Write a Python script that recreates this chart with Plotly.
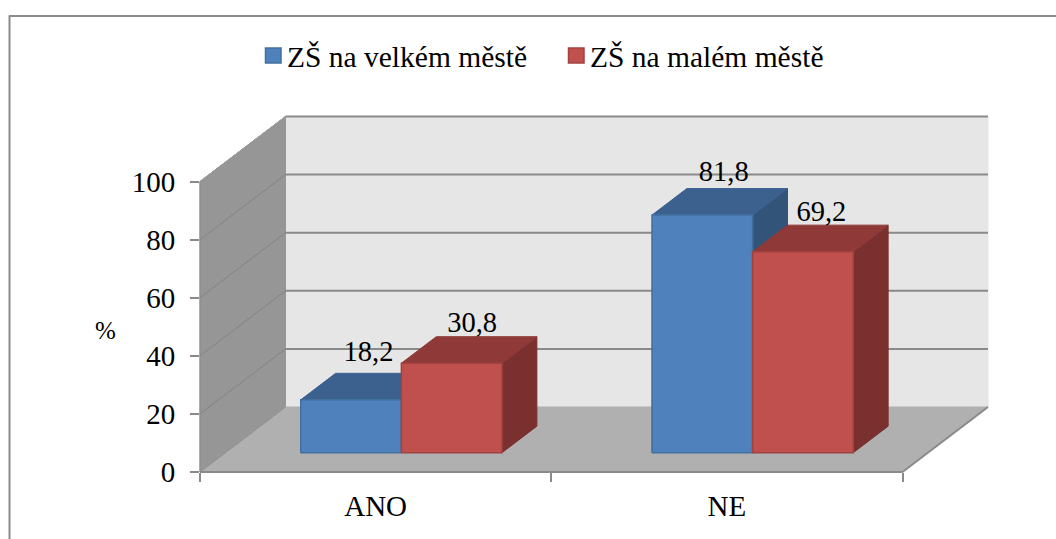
import plotly.graph_objects as go

categories = ["ANO", "NE"]
series_names = ["ZŠ na velkém městě", "ZŠ na malém městě"]
velke_mesto = [18.2, 81.8]
male_mesto = [30.8, 69.2]
value_labels = [["18,2", "81,8"], ["30,8", "69,2"]]
y_ticks = [0, 20, 40, 60, 80, 100]

W, H = 1056, 539
PX_X0, PX_X1 = 200.0, 902.5   # x axis in pixels
PX_Y0, PX_Y100 = 472.0, 181.5  # y axis in pixels
DX_PX, DY_PX = 85.5, 65.0      # chart depth in pixels
SX = (PX_X1 - PX_X0) / 2
SY = (PX_Y0 - PX_Y100) / 100
DX, DY = DX_PX / SX, DY_PX / SY

BAR_W, GAP = 0.2865, 0.2145
Z0, Z1 = 0.297, 0.705
LABEL_NUDGE_X = [[0, 4], [3, 1]]      # pixels
LABEL_NUDGE_Y = [[18, 14], [11, 10]]  # pixels
LEGEND_SWATCH = [(265.5, 281), (568.5, 584)]
LEGEND_TEXT_X = [285, 587.5]
LEGEND_Y = (48, 63, 57)

FRONT = ["#4f81bd", "#c0504d"]
TOP = ["#3c618f", "#8f3a38"]
SIDE = ["#325479", "#7a302e"]
EDGE = ["#41709f", "#a04340"]
TXT = "#000000"
FONT = "Liberation Serif"


def proj(x, y, z):
    return x + z * DX, y + z * DY


def poly(points, fill, line=None, width=1):
    xs, ys = zip(*[proj(*p) for p in points + points[:1]])
    return go.Scatter(x=xs, y=ys, mode="lines", fill="toself", fillcolor=fill,
                      line=dict(color=line or fill, width=width),
                      hoverinfo="skip", showlegend=False)


def seg(a, b, color, width):
    xs, ys = zip(proj(*a), proj(*b))
    return go.Scatter(x=xs, y=ys, mode="lines", line=dict(color=color, width=width),
                      hoverinfo="skip", showlegend=False)


fig = go.Figure()

# walls and floor
fig.add_trace(poly([(0, 0, 1), (2, 0, 1), (2, 100, 1), (0, 100, 1)], "#e6e6e6"))
fig.add_trace(poly([(0, 0, 0), (0, 0, 1), (0, 100, 1), (0, 100, 0)], "#969696"))
fig.add_trace(poly([(0, 0, 0), (2, 0, 0), (2, 0, 1), (0, 0, 1)], "#b0b0b0"))
for t in y_ticks:
    if t > 0:
        fig.add_trace(seg((0, t, 1), (2, t, 1), "#8a8a8a", 2))
        fig.add_trace(seg((0, t, 0), (0, t, 1), "#838383", 1))
fig.add_trace(seg((0, 100, 0), (0, 100, 1), "#a0a0a0", 1))
fig.add_trace(seg((0, 0, 0), (0, 0, 1), "#8a8a8a", 1))
fig.add_trace(seg((2, 0, 0), (2, 0, 1), "#8a8a8a", 2))
fig.add_trace(seg((0, 0, 0), (2, 0, 0), "#8a8a8a", 2))
fig.add_trace(seg((0, 0, 0), (0, 100, 0), "#8a8a8a", 1))

# bars
label_x, label_y, label_t = [], [], []
for c in range(len(categories)):
    for s, values in enumerate([velke_mesto, male_mesto]):
        v = values[c]
        x0 = c + GAP + s * BAR_W
        x1 = x0 + BAR_W
        fig.add_trace(poly([(x1, 0, Z0), (x1, 0, Z1), (x1, v, Z1), (x1, v, Z0)], SIDE[s]))
        fig.add_trace(poly([(x0, v, Z0), (x1, v, Z0), (x1, v, Z1), (x0, v, Z1)], TOP[s]))
        fig.add_trace(poly([(x0, 0, Z0), (x1, 0, Z0), (x1, v, Z0), (x0, v, Z0)], FRONT[s], EDGE[s], 1.5))
        lx, ly = proj((x0 + x1) / 2, v, (Z0 + Z1) / 2)
        label_x.append(lx + LABEL_NUDGE_X[s][c] / SX)
        label_y.append(ly + LABEL_NUDGE_Y[s][c] / SY)
        label_t.append(value_labels[s][c])

fig.add_trace(go.Scatter(x=label_x, y=label_y, text=label_t, mode="text",
                         textposition="top center", cliponaxis=False,
                         textfont=dict(family=FONT, size=28.5, color=TXT),
                         hoverinfo="skip", showlegend=False))

# invisible carrier for the visible axes
fig.add_trace(go.Scatter(x=[0, 2], y=[0, 100], xaxis="x2", yaxis="y2", mode="markers",
                         marker=dict(opacity=0), hoverinfo="skip", showlegend=False))

xr = [(0 - PX_X0) / SX, (W - PX_X0) / SX]
yr = [(PX_Y0 - H) / SY, (PX_Y0 - 0) / SY]

legend_shapes = [
    dict(type="rect", xref="paper", yref="paper",
         x0=LEGEND_SWATCH[s][0] / W, x1=LEGEND_SWATCH[s][1] / W,
         y0=(H - LEGEND_Y[1]) / H, y1=(H - LEGEND_Y[0]) / H,
         fillcolor=FRONT[s], line=dict(color=EDGE[s], width=1.5))
    for s in range(len(series_names))
]
legend_texts = [
    dict(text=series_names[s], xref="paper", yref="paper", x=LEGEND_TEXT_X[s] / W,
         y=(H - LEGEND_Y[2]) / H, xanchor="left", yanchor="middle", showarrow=False,
         font=dict(family=FONT, size=29.5, color=TXT))
    for s in range(len(series_names))
]

fig.update_layout(
    width=W, height=H,
    margin=dict(l=0, r=0, t=0, b=0, pad=0, autoexpand=False),
    paper_bgcolor="white", plot_bgcolor="rgba(0,0,0,0)",
    font=dict(family=FONT, size=29, color=TXT),
    showlegend=False,
    xaxis=dict(domain=[0, 1], range=xr, visible=False, fixedrange=True),
    yaxis=dict(domain=[0, 1], range=yr, visible=False, fixedrange=True),
    xaxis2=dict(domain=[PX_X0 / W, PX_X1 / W], range=[0, 2], anchor="y2",
                showgrid=False, zeroline=False, showline=False, fixedrange=True,
                tickmode="array", tickvals=[0.5, 1.5], ticktext=categories,
                ticks="", ticklabelstandoff=14,
                tickfont=dict(family=FONT, size=29, color=TXT),
                minor=dict(tickmode="array", tickvals=[0, 1, 2], ticks="outside",
                           ticklen=9, tickwidth=2, tickcolor="#8a8a8a", showgrid=False)),
    yaxis2=dict(domain=[(H - PX_Y0) / H, (H - PX_Y100) / H], range=[0, 100], anchor="x2",
                showgrid=False, zeroline=False, showline=False, fixedrange=True,
                tickmode="array", tickvals=y_ticks,
                ticks="outside", ticklen=9, tickwidth=2, tickcolor="#8a8a8a",
                ticklabelstandoff=9,
                tickfont=dict(family=FONT, size=29, color=TXT)),
    annotations=legend_texts + [
        dict(text="%", xref="paper", yref="paper", x=105 / W, y=(H - 331) / H,
             xanchor="center", yanchor="middle", showarrow=False,
             font=dict(family=FONT, size=25, color=TXT)),
    ],
    shapes=legend_shapes + [
        dict(type="line", xref="paper", yref="paper", x0=9.5 / W, x1=9.5 / W, y0=0, y1=(H - 15.5) / H,
             line=dict(color="#8c8c8c", width=2)),
        dict(type="line", xref="paper", yref="paper", x0=9 / W, x1=1, y0=(H - 16) / H, y1=(H - 16) / H,
             line=dict(color="#8c8c8c", width=2)),
    ],
)

fig.write_html("out.html", config={"displayModeBar": False},
               post_script="document.body.style.margin='0';document.body.style.overflow='hidden';")
